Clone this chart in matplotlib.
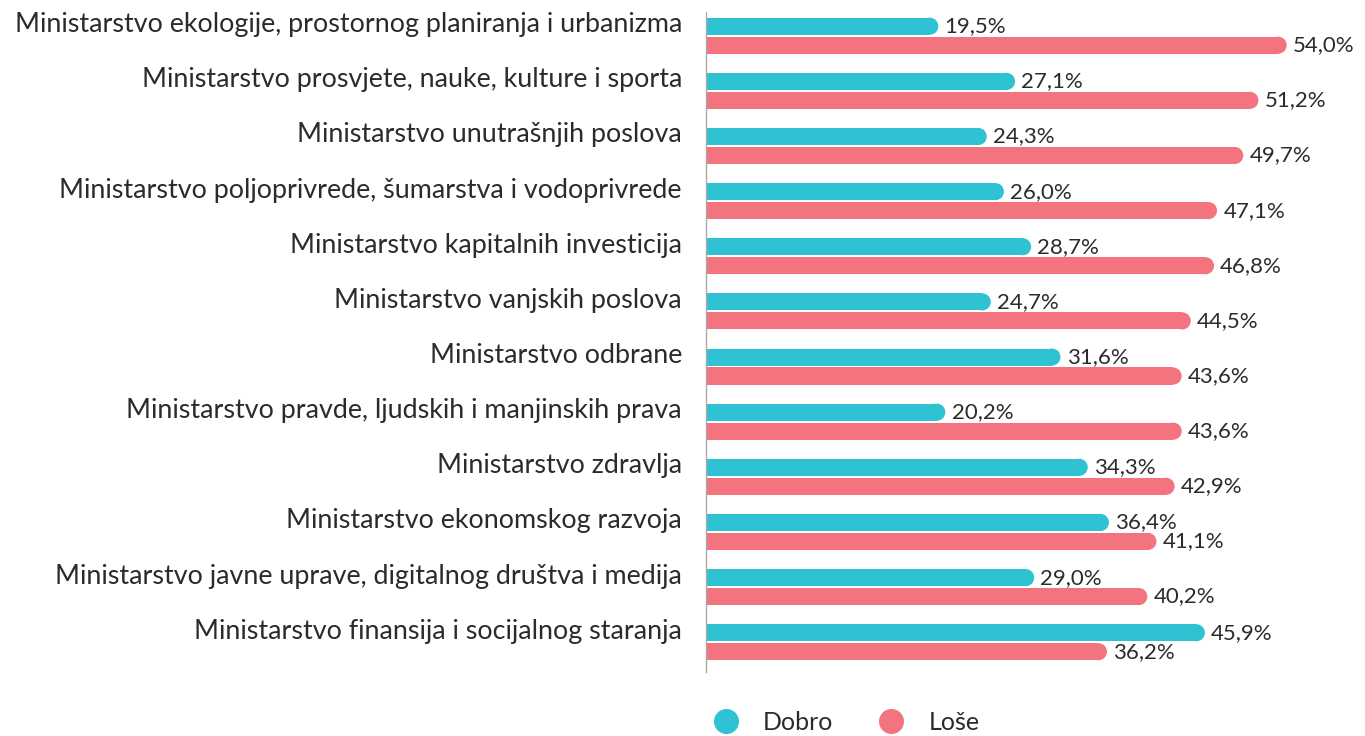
import numpy as np
import matplotlib.pyplot as plt
from matplotlib.patches import Ellipse
from matplotlib.lines import Line2D

plt.rcParams['font.family'] = ['Lato', 'DejaVu Sans']

ministries = [
    'Ministarstvo ekologije, prostornog planiranja i urbanizma',
    'Ministarstvo prosvjete, nauke, kulture i sporta',
    'Ministarstvo unutrašnjih poslova',
    'Ministarstvo poljoprivrede, šumarstva i vodoprivrede',
    'Ministarstvo kapitalnih investicija',
    'Ministarstvo vanjskih poslova',
    'Ministarstvo odbrane',
    'Ministarstvo pravde, ljudskih i manjinskih prava',
    'Ministarstvo zdravlja',
    'Ministarstvo ekonomskog razvoja',
    'Ministarstvo javne uprave, digitalnog društva i medija',
    'Ministarstvo finansija i socijalnog staranja',
]
dobro = [19.5, 27.1, 24.3, 26.0, 28.7, 24.7, 31.6, 20.2, 34.3, 36.4, 29.0, 45.9]
lose = [54.0, 51.2, 49.7, 47.1, 46.8, 44.5, 43.6, 43.6, 42.9, 41.1, 40.2, 36.2]

c_dobro = '#2ec2d3'
c_lose = '#f3737e'
txt = '#2b2b2b'

fig = plt.figure(figsize=(13.65, 7.36), dpi=100)
ax = fig.add_axes([706 / 1365, 64 / 736, 649 / 1365, 660 / 736])

base = -3.5
xmax = 60.76
ax.set_xlim(base, xmax)
ax.set_ylim(11.54, -0.43)

bh = 0.31
off = 0.172
# pixel -> data sizes for round caps
px_x = (xmax - base) / 649
px_y = (11.54 + 0.43) / 660
cap_h_px = bh / px_y
cap_w = cap_h_px * px_x


def rounded_bar(y, v, color):
    ax.barh(y, v - base - cap_w / 2, left=base, height=bh, color=color, linewidth=0)
    ax.add_patch(Ellipse((v - cap_w / 2, y), cap_w, bh, color=color, linewidth=0))
    ax.annotate(f'{v:.1f}%'.replace('.', ','), (v, y), xytext=(4.5, 0),
                textcoords='offset points', va='center', ha='left',
                fontsize=16, color=txt)


y = np.arange(len(ministries))
for i in y:
    rounded_bar(i - off, dobro[i], c_dobro)
    rounded_bar(i + off, lose[i], c_lose)
    ax.text(-0.037, i - 0.2, ministries[i], transform=ax.get_yaxis_transform(),
            ha='right', va='center', fontsize=19.4, color=txt)

for s in ['top', 'right', 'bottom']:
    ax.spines[s].set_visible(False)
ax.spines['left'].set_color('#aaaaaa')
ax.spines['left'].set_linewidth(1)
ax.set_xticks([])
ax.set_yticks([])

handles = [Line2D([], [], marker='o', linestyle='', markersize=17, color=c_dobro),
           Line2D([], [], marker='o', linestyle='', markersize=17, color=c_lose)]
leg = fig.legend(handles, ['Dobro', 'Loše'], loc='center', bbox_to_anchor=(840 / 1365, 1 - 722 / 736),
                 ncol=2, frameon=False, fontsize=18, handletextpad=0.5, columnspacing=1.3)
for t in leg.get_texts():
    t.set_color(txt)

fig.savefig('out.png', dpi=100)
